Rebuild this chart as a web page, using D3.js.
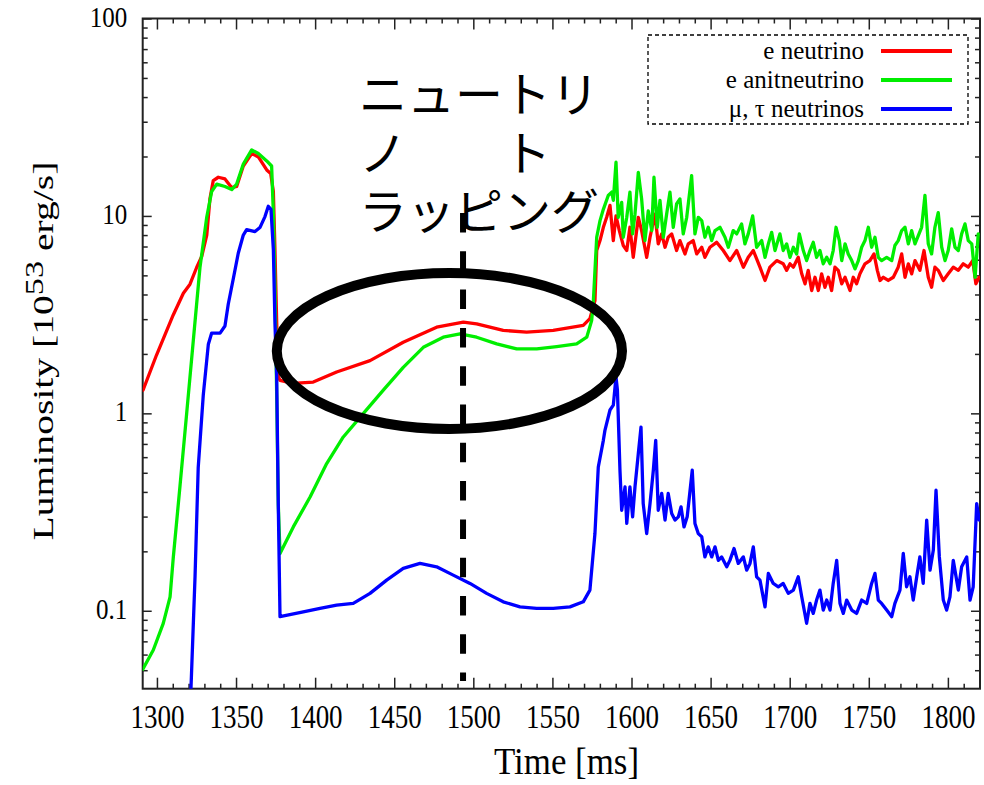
<!DOCTYPE html>
<html><head><meta charset="utf-8">
<script src="https://cdn.jsdelivr.net/npm/d3@7"></script>
<style>body{margin:0;background:#fff} svg{display:block}</style>
</head><body>
<svg id="c" width="984" height="785"></svg>
<script>
// ---- data (time in ms, luminosity in 1e53 erg/s) ----
const seriesNames = ["e neutrino", "e anitneutrino", "\u03bc, \u03c4 neutrinos"];
const seriesColors = ["#ff0000", "#00ee00", "#0000ff"];

const eNuT = [1291.2,1299.8,1310.3,1316.7,1320.9,1325.1,1328.3,1331.5,1333.5,1335.6,1338.8,1343.0,1347.3,1350.4,1354.6,1359.9,1364.1,1369.4,1371.9,1373.6,1374.6,1375.7,1376.7,1377.8,1386.0,1398.8,1413.6,1434.7,1455.7,1476.8,1493.7,1502.1,1518.9,1533.7,1550.5,1569.5,1573.7,1576.9,1578.0,1580.1,1582.2,1584.3,1586.4,
1588.5,1590.2,1592.3,1594.8,1597.0,1599.0,1601.1,1604.3,1606.4,1609.6,1611.7,1614.8,1616.9,1619.1,1621.2,1623.2,1625.4,1628.5,1630.6,1633.8,1635.9,1639.0,1641.2,1644.4,1646.4,1649.6,1653.8,1658.0,1662.2,1666.5,1670.7,1673.8,1677.0,1681.2,1684.4,1687.5,1691.8,1695.9,1698.1,1700.2,1702.3,1705.4,1707.6,1709.7,1711.7,1713.9,1716.0,1718.1,1720.2,1722.3,1724.4,1726.5,1728.6,1730.7,1732.9,1735.0,1738.1,1740.2,1742.3,1744.4,1747.6,1750.7,1753.3,1755.4,1757.1,1759.2,1762.3,1765.5,1768.6,1770.8,1772.9,1775.0,1777.1,1779.2,1782.3,1784.9,1787.6,1789.7,1791.8,1793.9,1797.1,1800.2,1803.4,1806.6,1809.7,1812.9,1815.7,1817.7,1819.8];
const eNuL = [1.31,1.98,3.15,4.06,4.51,5.48,6.23,8.0,12.2,15.1,15.7,15.4,13.9,14.1,17.9,20.7,19.9,17.1,16.4,13.3,6.75,2.89,1.54,1.47,1.42,1.44,1.62,1.85,2.29,2.73,2.90,2.84,2.63,2.58,2.63,2.79,3.02,3.73,6.68,7.50,8.76,9.84,11.3,
7.50,10.0,8.43,7.08,6.68,8.76,6.17,9.84,8.43,6.17,7.80,10.2,7.22,8.11,6.94,7.80,8.11,6.68,7.50,6.42,7.22,7.50,6.42,6.94,6.17,6.94,7.35,6.68,5.94,6.68,5.50,6.17,6.68,5.50,4.71,5.50,5.94,5.72,5.30,5.72,5.50,6.17,5.09,4.53,5.30,4.19,4.89,4.19,5.09,4.35,4.89,4.19,5.50,5.30,4.53,4.89,4.19,4.89,4.53,5.09,5.72,5.94,6.42,5.30,4.71,4.89,4.71,4.89,5.50,6.42,4.89,5.72,5.09,5.94,5.30,6.68,4.89,4.35,5.50,5.30,4.71,5.09,5.50,5.30,5.72,5.50,5.94,4.53,4.89];

const eBarT = [1291.0,1297.7,1304.0,1308.3,1310.3,1314.6,1318.8,1323.0,1327.2,1331.5,1334.6,1337.8,1343.0,1347.3,1350.4,1354.6,1359.9,1364.1,1369.4,1372.5,1373.6,1374.6,1375.7,1376.7,1377.8,1386.2,1396.8,1407.3,1417.8,1430.4,1443.1,1455.7,1468.4,1481.0,1491.6,1502.1,1514.8,1527.4,1540.1,1552.7,1565.3,1571.7,1574.8,1575.8,1578.0,1580.1,1582.2,1585.3,1587.5,
1588.5,1590.2,1591.6,1593.8,1594.8,1597.0,1599.0,1600.7,1602.2,1604.3,1606.4,1608.5,1610.6,1612.8,1614.2,1616.3,1618.0,1620.1,1622.2,1624.3,1626.4,1628.5,1630.6,1632.7,1634.9,1638.0,1640.1,1642.2,1644.4,1646.4,1648.5,1650.7,1652.8,1655.9,1659.1,1661.2,1664.3,1666.5,1669.6,1671.7,1673.8,1676.6,1679.1,1682.3,1684.4,1686.5,1688.6,1690.7,1693.8,1695.9,1698.1,1700.2,1702.3,1704.4,1706.1,1708.6,1710.7,1712.8,1714.9,1717.0,1719.1,1721.2,1723.4,1725.5,1727.5,1729.3,1731.4,1732.9,1735.0,1737.0,1739.2,1741.3,1743.4,1745.5,1747.6,1749.7,1751.8,1753.9,1756.0,1758.1,1761.3,1764.5,1766.5,1768.6,1770.8,1772.9,1775.0,1777.1,1779.2,1781.3,1783.4,1785.5,1787.6,1789.7,1791.8,1793.9,1796.1,1798.2,1800.2,1802.4,1804.5,1806.6,1808.7,1810.8,1812.9,1815.1,1817.2,1819.2];
const eBarL = [0.0505,0.0633,0.0864,0.1177,0.185,0.430,1.0,2.34,5.48,9.87,13.3,14.5,14.1,13.6,14.5,18.3,21.6,20.7,19.0,17.9,10.3,4.42,1.24,0.348,0.195,0.266,0.377,0.557,0.759,0.997,1.31,1.71,2.16,2.43,2.53,2.43,2.25,2.12,2.12,2.18,2.25,2.43,2.95,3.59,7.80,9.47,10.8,12.7,13.2,
12.0,18.7,9.84,11.7,7.80,9.84,13.2,8.11,10.2,16.6,12.2,7.50,10.6,8.43,15.7,8.76,12.0,7.80,10.2,13.2,8.76,11.5,12.2,8.11,9.84,16.0,8.11,9.84,9.47,7.80,8.76,7.50,8.43,8.76,7.80,6.94,8.43,8.11,9.11,7.22,8.11,10.0,6.94,7.50,6.17,7.22,8.26,6.68,8.11,6.68,7.22,6.17,6.94,6.42,8.11,6.68,5.94,6.68,7.35,6.17,6.68,5.72,6.17,5.72,6.68,8.76,7.50,5.94,7.22,6.42,5.94,5.39,5.94,6.94,7.50,8.76,6.94,7.80,6.17,5.94,6.17,5.94,7.08,7.50,8.43,8.76,7.22,8.43,7.22,7.95,8.76,12.7,7.22,6.42,8.76,10.4,6.94,5.94,6.68,8.60,6.94,6.68,8.11,9.11,7.50,7.22,4.89,8.11];

const muTauT = [1321.5,1324.1,1326.1,1329.3,1332.5,1334.6,1339.9,1343.0,1345.1,1348.3,1351.4,1354.6,1356.7,1362.0,1365.1,1368.3,1370.4,1372.1,1373.6,1374.6,1375.7,1376.7,1377.8,1392.5,1403.1,1413.6,1424.1,1434.7,1445.2,1455.7,1466.3,1476.8,1487.3,1497.9,1508.4,1518.9,1529.5,1540.0,1550.5,1561.1,1569.5,1573.7,1576.9,1579.0,1582.2,1583.2,1586.4,1588.5,1590.2,1591.1,1592.7,1593.8,
1595.9,1597.0,1599.0,1600.7,1602.2,1604.3,1606.0,1607.4,1609.6,1611.7,1613.8,1615.3,1616.9,1619.1,1621.2,1623.2,1625.4,1627.5,1629.6,1631.3,1633.2,1635.2,1638.4,1640.1,1642.2,1644.4,1646.4,1648.5,1650.7,1652.8,1654.9,1657.0,1660.2,1662.2,1664.8,1667.5,1670.7,1672.8,1674.9,1677.0,1679.1,1681.2,1684.4,1686.5,1689.6,1692.8,1695.9,1699.1,1702.3,1705.4,1707.6,1710.7,1712.8,1714.9,1717.0,1719.1,1721.2,1723.4,1725.5,1727.5,1729.7,1731.8,1733.9,1736.0,1739.2,1742.3,1745.5,1748.7,1751.8,1753.9,1756.0,1758.1,1761.3,1764.5,1766.5,1769.7,1771.8,1773.9,1776.0,1778.1,1780.3,1782.3,1784.4,1786.6,1788.7,1790.8,1792.5,1794.6,1797.1,1799.2,1801.3,1803.4,1806.6,1808.7,1811.9,1814.0,1816.0,1818.2,1819.8];
const muTauL = [0.04,0.150,0.533,1.24,2.24,2.55,2.55,2.77,3.58,4.82,6.47,8.0,8.52,8.33,8.73,9.92,11.2,10.8,6.75,2.89,1.54,0.348,0.0933,0.0988,0.1028,0.1069,0.109,0.1225,0.143,0.164,0.1737,0.167,0.1516,0.1376,0.1225,0.111,0.1047,0.1028,0.1028,0.1047,0.111,0.1273,0.247,0.535,0.730,0.820,1.04,1.10,1.53,1.31,0.515,0.323,
0.424,0.277,0.424,0.299,0.424,0.625,0.852,0.349,0.246,0.349,0.515,0.730,0.323,0.393,0.288,0.393,0.311,0.288,0.299,0.336,0.266,0.299,0.515,0.277,0.246,0.237,0.1875,0.2107,0.1875,0.2107,0.180,0.1875,0.167,0.180,0.2068,0.1737,0.1875,0.1606,0.1737,0.2107,0.1486,0.143,0.1047,0.1546,0.1376,0.1323,0.1376,0.1225,0.1273,0.1486,0.1177,0.0864,0.109,0.097,0.1133,0.1273,0.1008,0.1133,0.1008,0.1376,0.180,0.109,0.097,0.1133,0.1008,0.097,0.1133,0.109,0.1376,0.1546,0.1133,0.109,0.1008,0.0933,0.109,0.1273,0.195,0.1323,0.1486,0.1133,0.1486,0.1875,0.1376,0.288,0.1606,0.203,0.408,0.1875,0.1133,0.1008,0.1177,0.180,0.1273,0.167,0.1875,0.1133,0.1323,0.349,0.288];

const xMajorTicks = [1300,1350,1400,1450,1500,1550,1600,1650,1700,1750,1800];
const yMajorTicks = [0.1,1,10,100];
const yTickLabels = ["0.1","1","10","100"];
const annotationLines = ["\u30cb\u30e5\u30fc\u30c8\u30ea", "\u30ce\u3000\u3000\u30c8", "\u30e9\u30c3\u30d4\u30f3\u30b0"];
const trappingTime = 1493.5;

// ---- layout ----
const L = 142.7, R = 980, T = 18.5, B = 688.7;
const svg = d3.select("#c");
const x = d3.scaleLinear().domain([1291, 1820.3]).range([L, R]);
const y = d3.scaleLog().domain([0.0403, 100]).range([B, T]);
const SERIF = '"Liberation Serif", "Times New Roman", serif';

const xMinor = d3.range(1300, 1821, 10).filter(v => v % 50 !== 0);
const yMinor = [];
[0.01, 0.1, 1, 10].forEach(d => { for (let k = 2; k <= 9; k++) { const v = d * k; if (v > 0.0403 && v < 100) yMinor.push(v); } });

function styleAxis(g) {
  g.attr("font-family", null).attr("font-size", null);
  g.select(".domain").remove();
  g.selectAll(".tick line").attr("stroke", "#222").attr("stroke-width", 1.5);
}
// bottom
svg.append("g").attr("transform", `translate(0,${B})`)
  .call(d3.axisBottom(x).tickValues(xMajorTicks).tickSize(-11).tickFormat(d3.format("d")))
  .call(styleAxis)
  .call(g => g.selectAll("text").attr("y", null).attr("dy", null)
    .attr("transform", "translate(0,39.3) scale(1,1.25)")
    .style("font-family", SERIF).style("font-size", "27px").attr("fill", "#000"));
svg.append("g").attr("transform", `translate(0,${B})`)
  .call(d3.axisBottom(x).tickValues(xMinor).tickSize(-5).tickFormat("")).call(styleAxis);
// top
svg.append("g").attr("transform", `translate(0,${T})`)
  .call(d3.axisTop(x).tickValues(xMajorTicks).tickSize(-11).tickFormat("")).call(styleAxis);
svg.append("g").attr("transform", `translate(0,${T})`)
  .call(d3.axisTop(x).tickValues(xMinor).tickSize(-5).tickFormat("")).call(styleAxis);
// left
svg.append("g").attr("transform", `translate(${L},0)`)
  .call(d3.axisLeft(y).tickValues(yMajorTicks).tickSize(-9).tickFormat((d, i) => yTickLabels[i]))
  .call(styleAxis)
  .call(g => g.selectAll("text").attr("x", null).attr("dy", null)
    .attr("transform", "translate(-15.5,7.5) scale(1,1.15)")
    .style("font-family", SERIF).style("font-size", "25px").attr("fill", "#000"));
svg.append("g").attr("transform", `translate(${L},0)`)
  .call(d3.axisLeft(y).tickValues(yMinor).tickSize(-5).tickFormat("")).call(styleAxis);
// right
svg.append("g").attr("transform", `translate(${R},0)`)
  .call(d3.axisRight(y).tickValues(yMajorTicks).tickSize(-9).tickFormat("")).call(styleAxis);
svg.append("g").attr("transform", `translate(${R},0)`)
  .call(d3.axisRight(y).tickValues(yMinor).tickSize(-5).tickFormat("")).call(styleAxis);

// frame
svg.append("rect").attr("x", L).attr("y", T).attr("width", R - L).attr("height", B - T)
  .attr("fill", "none").attr("stroke", "#222").attr("stroke-width", 2);

// clip
svg.append("clipPath").attr("id", "clip").append("rect")
  .attr("x", L).attr("y", T).attr("width", R - L).attr("height", B - T);

const line = d3.line().x(d => x(d[0])).y(d => y(d[1]));
const series = [
  d3.zip(eNuT, eNuL),
  d3.zip(eBarT, eBarL),
  d3.zip(muTauT, muTauL)
];
const plot = svg.append("g").attr("clip-path", "url(#clip)");
series.forEach((s, i) => {
  plot.append("path").datum(s).attr("d", line)
    .attr("fill", "none").attr("stroke", seriesColors[i]).attr("stroke-width", 3.3)
    .attr("stroke-linejoin", "round").attr("stroke-linecap", "round");
});

// axis titles
svg.append("text").attr("x", 566.5).attr("y", 774).attr("text-anchor", "middle")
  .style("font-family", SERIF).style("font-size", "37px")
  .attr("textLength", 145).attr("lengthAdjust", "spacingAndGlyphs").text("Time [ms]");
const yl = svg.append("text").attr("transform", "translate(53,351) rotate(-90) scale(1.32,1)")
  .attr("text-anchor", "middle").style("font-family", SERIF).style("font-size", "30px");
yl.append("tspan").text("Luminosity [10");
yl.append("tspan").attr("dy", -10).style("font-size", "26px").text("53");
yl.append("tspan").attr("dy", 10).text(" erg/s]");

// annotation: Japanese text, ellipse, dashed line
const jt = svg.append("text")
  .style("font-family", '"Noto Sans CJK JP", "Noto Sans CJK SC", sans-serif')
  .style("font-size", "48px").attr("fill", "#000");
annotationLines.forEach((t, i) => {
  jt.append("tspan").attr("x", 359).attr("y", 112 + i * 58.5).text(t);
});
svg.append("ellipse").attr("cx", 449.4).attr("cy", 351).attr("rx", 172.6).attr("ry", 78)
  .attr("fill", "none").attr("stroke", "#000").attr("stroke-width", 10);
svg.append("line").attr("x1", x(trappingTime)).attr("x2", x(trappingTime))
  .attr("y1", 213).attr("y2", 681)
  .attr("stroke", "#000").attr("stroke-width", 6).attr("stroke-dasharray", "19.5 18.8");

// legend
const lg = svg.append("g");
lg.append("rect").attr("x", 648).attr("y", 35).attr("width", 320).attr("height", 89)
  .attr("fill", "#fff").attr("stroke", "#000").attr("stroke-width", 1.3).attr("stroke-dasharray", "4 3");
seriesNames.forEach((n, i) => {
  const cy = 51 + i * 29;
  lg.append("text").attr("x", 864).attr("y", cy + 7.5).attr("text-anchor", "end")
    .style("font-family", SERIF).style("font-size", "25px").text(n);
  lg.append("line").attr("x1", 881).attr("x2", 952).attr("y1", cy).attr("y2", cy)
    .attr("stroke", seriesColors[i]).attr("stroke-width", 4);
});
</script>
</body></html>
